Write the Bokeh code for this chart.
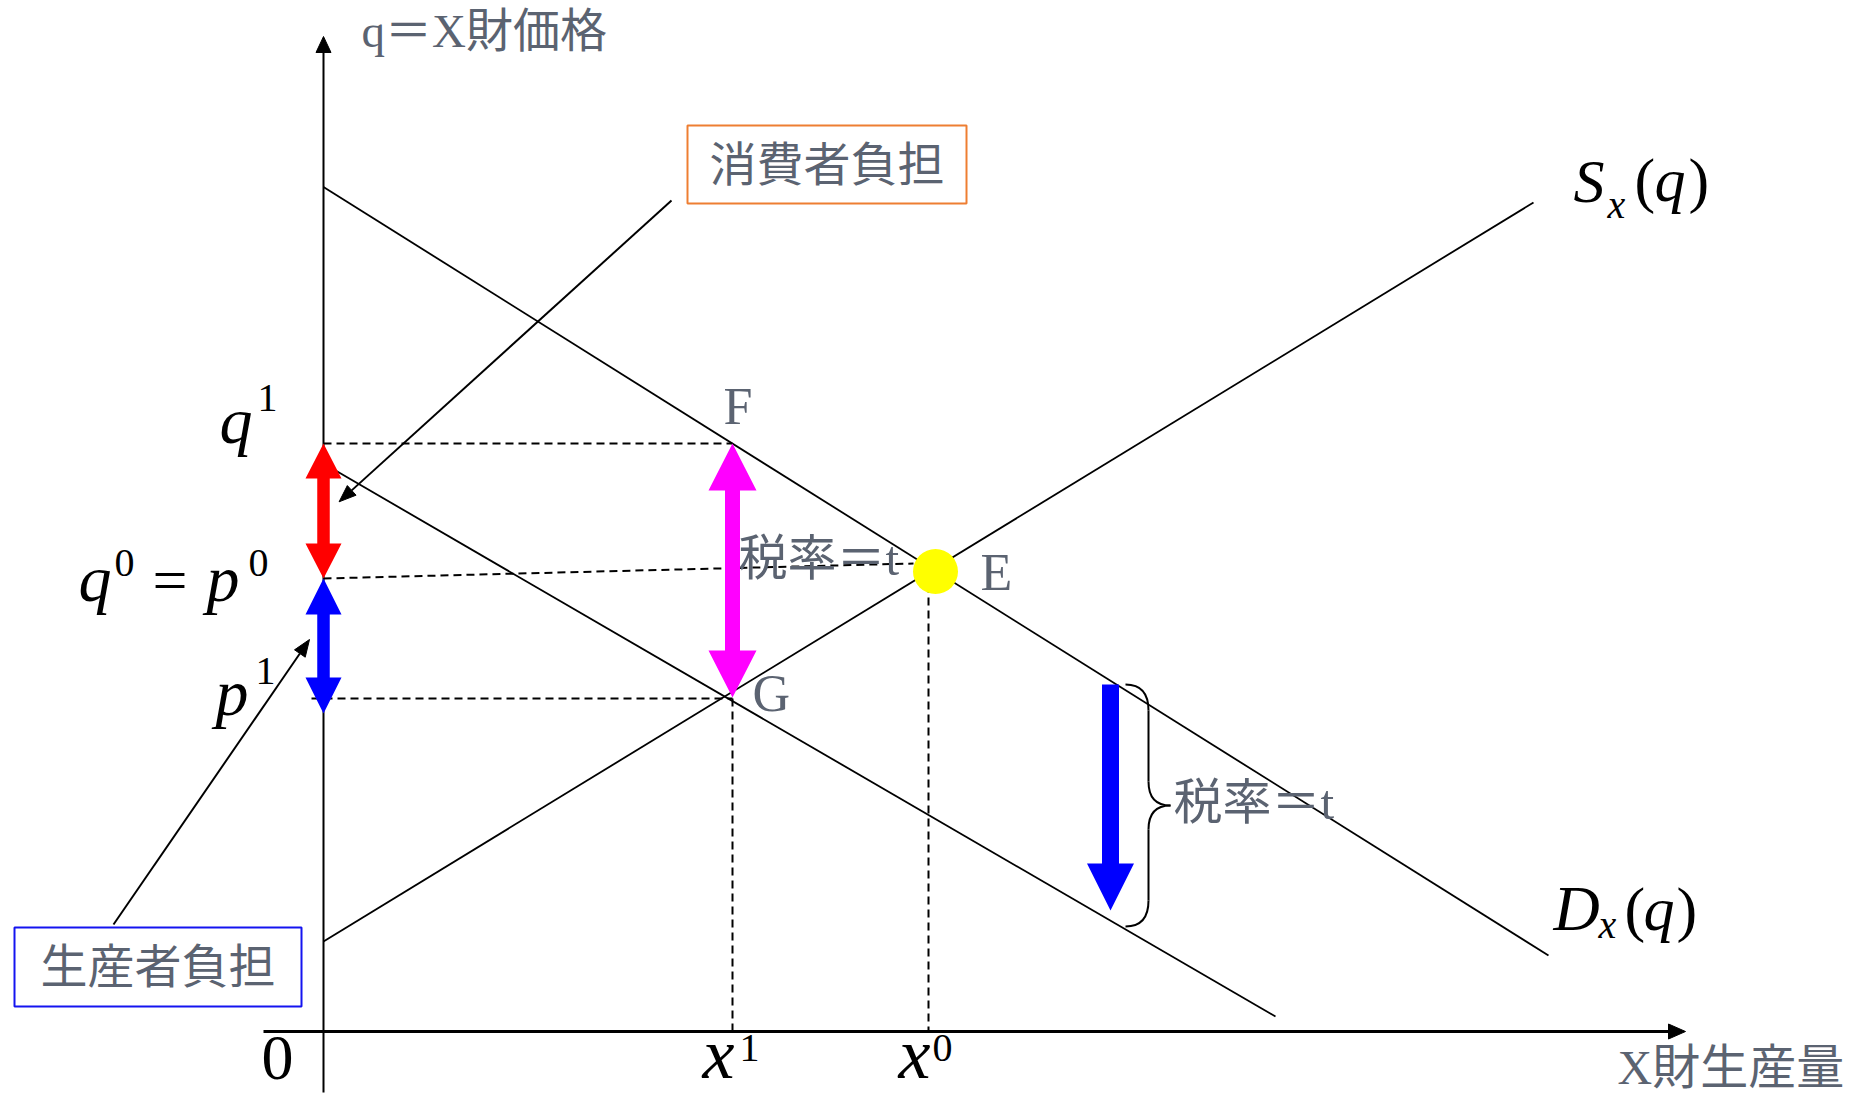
from bokeh.plotting import figure
from bokeh.models import Range1d
from bokeh.embed import file_html
from bokeh.resources import INLINE
from bokeh.core.properties import value
import math

# ---------------- data (diagram units: quantity on x, price on y) ----------------
demand_x = [0.0, 122.5]          # D_x(q)
demand_y = [84.45, 7.6]
supply_x = [0.0, 121.0]          # S_x(q)
supply_y = [9.0, 82.9]
taxed_x = [0.0, 95.2]            # demand shifted down by the tax
taxed_y = [56.8, 1.5]

x_values = [40.9, 60.5]          # x1, x0
price_values = [58.8, 45.3, 33.3]  # q1, q0 = p0, p1
point_E = [61.2, 46.0]
q0_guide_x = [0.0, 59.0]
q0_guide_y = [45.3, 46.8]
magenta_y = [58.8, 33.4]         # F -> G (tax t)
wedge_x = [78.7, 80.2]           # blue arrow, brace
wedge_top = [34.7, 34.7]
wedge_bottom = [12.1, 10.5]
red_y = [58.8, 45.3]             # consumer burden
blue_y = [45.3, 31.8]            # producer burden
consumer_arrow = [[34.8, 83.1], [1.56, 52.97]]
producer_arrow = [[-21.0, 10.7], [-1.4, 39.2]]
consumer_box = [36.4, 64.3, 82.8, 90.6]     # left, right, bottom, top
producer_box = [-30.9, -2.2, 2.5, 10.4]
y_axis = [-6.1, 99.5]
x_axis = [-6.0, 136.2]

x1, x0 = x_values
q1, q0, p1 = price_values

PX = 0.1  # diagram units per screen pixel
GREY = "#5B6371"
SERIF = "Liberation Serif, Noto Sans CJK JP"
BASE_FIX = 0.36  # alphabetic-baseline correction (em)

W, H = 1847, 1095
X0, YT = -32.3, 103.1
p = figure(width=W, height=H, output_backend="svg", toolbar_location=None,
           x_range=Range1d(X0, X0 + W * PX), y_range=Range1d(YT - H * PX, YT),
           x_axis_type=None, y_axis_type=None, min_border=0)
p.grid.visible = False
p.outline_line_color = None
p.background_fill_color = "white"
p.border_fill_color = "white"


def head_pts(tail, tip, length, width):
    dx, dy = tip[0] - tail[0], tip[1] - tail[1]
    n = math.hypot(dx, dy)
    ux, uy = dx / n, dy / n
    L, Wd = length * PX, width * PX
    bx, by = tip[0] - ux * L, tip[1] - uy * L
    nx, ny = -uy, ux
    xs = [tip[0], bx + nx * Wd / 2, bx - nx * Wd / 2]
    ys = [tip[1], by + ny * Wd / 2, by - ny * Wd / 2]
    return xs, ys, (bx, by)


def thin_arrow(tail, tip, length, width, lw, color="black"):
    xs, ys, base = head_pts(tail, tip, length, width)
    p.line([tail[0], base[0]], [tail[1], base[1]], line_color=color, line_width=lw)
    p.patch(xs, ys, fill_color=color, line_color=color, line_width=1)


def double_arrow(xc, y_top, y_bot, shaft, hw, hl, color):
    s, h, l = shaft * PX / 2, hw * PX / 2, hl * PX
    xs = [xc, xc + h, xc + s, xc + s, xc + h, xc, xc - h, xc - s, xc - s, xc - h]
    ys = [y_top, y_top - l, y_top - l, y_bot + l, y_bot + l, y_bot,
          y_bot + l, y_bot + l, y_top - l, y_top - l]
    p.patch(xs, ys, fill_color=color, line_color=None)


def down_arrow(xc, y_top, y_bot, shaft, hw, hl, color):
    s, h, l = shaft * PX / 2, hw * PX / 2, hl * PX
    xs = [xc - s, xc + s, xc + s, xc + h, xc, xc - h, xc - s]
    ys = [y_top, y_top, y_bot + l, y_bot + l, y_bot, y_bot + l, y_bot + l]
    p.patch(xs, ys, fill_color=color, line_color=None)


def T(x, y, text, size, dx=0, dy=0, italic=False, color="black",
      align="left", baseline="alphabetic"):
    if baseline == "alphabetic":
        dy = dy - BASE_FIX * size
    p.text(x=[x], y=[y], text=[text], x_offset=dx, y_offset=dy,
           text_font=value(SERIF), text_font_size=value(f"{size}px"),
           text_font_style="italic" if italic else "normal",
           text_color=color, text_align=align, text_baseline=baseline)


# ---------------- axes ----------------
thin_arrow((0, y_axis[0]), (0, y_axis[1]), 16, 15, 2)
thin_arrow((x_axis[0], 0), (x_axis[1], 0), 17, 15, 3)

# ---------------- guide (dashed) lines ----------------
dash = dict(line_color="black", line_width=2, line_dash="8 5")
p.line([0, x1], [q1, q1], **dash)
p.line([-1.2, x1], [p1, p1], **dash)
p.line(q0_guide_x, q0_guide_y, **dash)
p.line([x1, x1], [p1, 0], **dash)
p.line([x0, x0], [point_E[1], 0], **dash)

# ---------------- curves ----------------
p.line(demand_x, demand_y, line_color="black", line_width=1.8)
p.line(supply_x, supply_y, line_color="black", line_width=1.8)
p.line(taxed_x, taxed_y, line_color="black", line_width=1.8)

# ---------------- burden arrows ----------------
double_arrow(0, red_y[0], red_y[1], 12.5, 36, 35, "#FF0000")
double_arrow(0, blue_y[0], blue_y[1], 12.5, 36, 36, "#0000FF")
double_arrow(x1, magenta_y[0], magenta_y[1], 15, 48, 47, "#FF00FF")
down_arrow(wedge_x[0], wedge_top[0], wedge_bottom[0], 17, 47, 47, "#0000FF")

# brace
bx0, bs, bp = wedge_x[1], wedge_x[1] + 2.3, wedge_x[1] + 4.5
bt, bb = wedge_top[1], wedge_bottom[1]
bm = (bt + bb) / 2
bl = dict(line_color="black", line_width=2)
p.quadratic(x0=[bx0], y0=[bt], x1=[bs], y1=[bt - 2.6], cx=[bs], cy=[bt], **bl)
p.segment(x0=[bs], y0=[bt - 2.6], x1=[bs], y1=[bm + 2.4], **bl)
p.quadratic(x0=[bs], y0=[bm + 2.4], x1=[bp], y1=[bm], cx=[bs], cy=[bm], **bl)
p.quadratic(x0=[bp], y0=[bm], x1=[bs], y1=[bm - 2.4], cx=[bs], cy=[bm], **bl)
p.segment(x0=[bs], y0=[bm - 2.4], x1=[bs], y1=[bb + 2.6], **bl)
p.quadratic(x0=[bs], y0=[bb + 2.6], x1=[bx0], y1=[bb], cx=[bs], cy=[bb], **bl)

# pointer arrows from the boxes
thin_arrow(tuple(consumer_arrow[0]), tuple(consumer_arrow[1]), 17, 13, 2)
thin_arrow(tuple(producer_arrow[0]), tuple(producer_arrow[1]), 17, 13, 2)

# equilibrium point
p.scatter(x=[point_E[0]], y=[point_E[1]], size=45, fill_color="#FFFF00", line_color=None)

# boxes
cl, cr, cb, ct = consumer_box
p.quad(left=[cl], right=[cr], bottom=[cb], top=[ct], fill_color="white",
       line_color="#EE7E32", line_width=2)
pl, pr, pb, pt = producer_box
p.quad(left=[pl], right=[pr], bottom=[pb], top=[pt], fill_color="white",
       line_color="#1414F0", line_width=2)
T((cl + cr) / 2, (cb + ct) / 2, "消費者負担", 47, color=GREY, align="center", baseline="middle")
T((pl + pr) / 2, (pb + pt) / 2, "生産者負担", 47, color=GREY, align="center", baseline="middle")

# ---------------- labels ----------------
T(0, y_axis[1], "q＝X財価格", 47, dx=38, dy=-6, color=GREY, baseline="middle")
T(x_axis[1], 0, "X財生産量", 48, dx=-68, dy=36, color=GREY, baseline="middle")

T(x1, q1, "F", 52, dx=-9, dy=-18, color=GREY)
T(point_E[0], point_E[1], "E", 52, dx=45, dy=20, color=GREY)
T(x1, p1, "G", 52, dx=20, dy=14, color=GREY)
T(x1, q0, "税率＝t", 49, dx=6, dy=-20, color=GREY, baseline="middle")
T(wedge_x[1], (wedge_top[1] + wedge_bottom[1]) / 2, "税率＝t", 49, dx=48, dy=-3,
  color=GREY, baseline="middle")

# price labels on the vertical axis
T(0, q1, "q", 66, dx=-104, dy=1, italic=True)
T(0, q1, "1", 40, dx=-66, dy=-31)
T(0, q0, "q", 66, dx=-245, dy=24, italic=True)
T(0, q0, "0", 40, dx=-209, dy=-1)
T(0, q0, "=", 62, dx=-171, dy=24)
T(0, q0, "p", 66, dx=-117, dy=24, italic=True)
T(0, q0, "0", 40, dx=-75, dy=-1)
T(0, p1, "p", 66, dx=-108, dy=18, italic=True)
T(0, p1, "1", 40, dx=-68, dy=-13)

# quantity labels (kept inside the bottom edge)
T(0, 0, "0", 64, dx=-62, dy=50)
T(x1, 0, "x", 72, dx=-30, dy=48, italic=True)
T(x1, 0, "1", 40, dx=7, dy=31)
T(x0, 0, "x", 72, dx=-30, dy=48, italic=True)
T(x0, 0, "0", 40, dx=4, dy=31)

# curve labels
sx, sy = supply_x[1], supply_y[1]
T(sx, sy, "S", 62, dx=40, dy=1, italic=True)
T(sx, sy, "x", 40, dx=74, dy=16, italic=True)
T(sx, sy, "(", 62, dx=101, dy=0)
T(sx, sy, "q", 62, dx=121, dy=0, italic=True)
T(sx, sy, ")", 62, dx=155, dy=0)
dxe, dye = demand_x[1], demand_y[1]
T(dxe, dye, "D", 64, dx=5, dy=-24, italic=True)
T(dxe, dye, "x", 40, dx=50, dy=-17, italic=True)
T(dxe, dye, "(", 62, dx=76, dy=-24)
T(dxe, dye, "q", 62, dx=95, dy=-24, italic=True)
T(dxe, dye, ")", 62, dx=128, dy=-24)

open("out.html", "w").write(file_html(p, INLINE))
